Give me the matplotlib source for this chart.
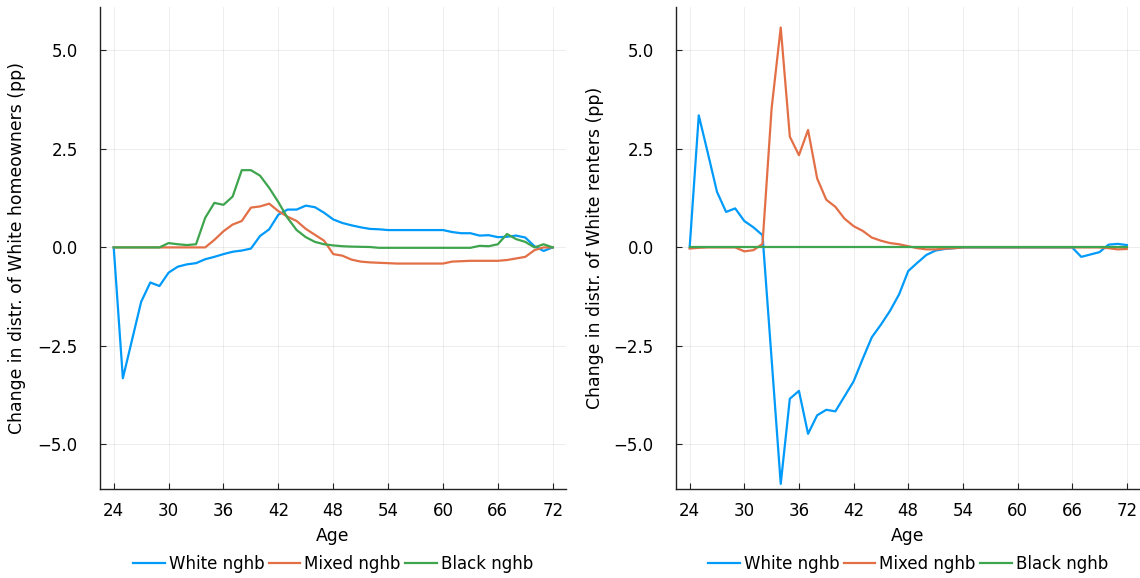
import numpy as np
import matplotlib.pyplot as plt
from matplotlib.ticker import FuncFormatter

plt.rcParams.update({
    'font.family': ['DejaVu Sans'],
    'font.size': 12,
    'xtick.labelsize': 12,
    'ytick.labelsize': 12,
    'axes.labelsize': 12.4,
})

ages = np.arange(24, 73)

# homeowners: change in distribution (pp)
own_white = [0, -3.32, -2.35, -1.38, -0.89, -0.98, -0.64, -0.49, -0.43, -0.40,
             -0.30, -0.24, -0.17, -0.11, -0.08, -0.03, 0.29, 0.46, 0.83, 0.96,
             0.96, 1.06, 1.02, 0.88, 0.71, 0.62, 0.56, 0.51, 0.47, 0.46,
             0.44, 0.44, 0.44, 0.44, 0.44, 0.44, 0.44, 0.39, 0.36, 0.36,
             0.30, 0.31, 0.26, 0.27, 0.30, 0.25, 0.03, -0.09, 0]
own_mixed = [0, 0, 0, 0, 0, 0, 0, 0, 0, 0,
             0, 0.19, 0.41, 0.58, 0.67, 1.01, 1.04, 1.11, 0.92, 0.78,
             0.67, 0.47, 0.32, 0.17, -0.17, -0.21, -0.31, -0.36, -0.38, -0.39,
             -0.40, -0.41, -0.41, -0.41, -0.41, -0.41, -0.41, -0.36, -0.35, -0.34,
             -0.34, -0.34, -0.34, -0.32, -0.28, -0.24, -0.07, 0, 0]
own_black = [0, 0, 0, 0, 0, 0, 0.11, 0.08, 0.06, 0.08,
             0.75, 1.13, 1.08, 1.29, 1.96, 1.96, 1.82, 1.51, 1.15, 0.75,
             0.44, 0.26, 0.14, 0.08, 0.05, 0.03, 0.02, 0.015, 0.01, -0.01,
             -0.01, -0.01, -0.01, -0.01, -0.01, -0.01, -0.01, -0.01, -0.01, -0.01,
             0.04, 0.03, 0.08, 0.34, 0.21, 0.14, 0, 0.08, 0]

# renters: change in distribution (pp)
rent_white = [0, 3.35, 2.39, 1.41, 0.90, 0.99, 0.67, 0.51, 0.31, -2.84,
              -6.0, -3.84, -3.64, -4.73, -4.26, -4.12, -4.16, -3.78, -3.40, -2.83,
              -2.28, -1.96, -1.61, -1.19, -0.60, -0.39, -0.19, -0.08, -0.04, -0.02,
              0, 0, 0, 0, 0, 0, 0, 0, 0, 0,
              0, 0, 0, -0.24, -0.18, -0.12, 0.07, 0.09, 0.06]
rent_mixed = [-0.03, -0.01, 0, 0, 0, 0, -0.10, -0.07, 0.09, 3.53,
              5.58, 2.81, 2.34, 2.98, 1.75, 1.21, 1.03, 0.73, 0.54, 0.42,
              0.25, 0.17, 0.11, 0.08, 0.03, -0.02, -0.05, -0.05, -0.03, -0.02,
              0, 0, 0, 0, 0, 0, 0, 0, 0, 0,
              0, 0, 0, 0, 0, 0, -0.02, -0.05, -0.04]
rent_black = [0] * len(ages)

labels = ["White nghb", "Mixed nghb", "Black nghb"]
colors = ['#009AFA', '#E36F47', '#3EA44E']

fig = plt.figure(figsize=(11.4, 5.78), dpi=100)
ax1 = fig.add_axes([100 / 1140, 89 / 578, 466 / 1140, 482 / 578])
ax2 = fig.add_axes([676 / 1140, 89 / 578, 464 / 1140, 482 / 578])

panels = [
    (ax1, [own_white, own_mixed, own_black], "Change in distr. of White homeowners (pp)", -0.159),
    (ax2, [rent_white, rent_mixed, rent_black], "Change in distr. of White renters (pp)", -0.155),
]

yfmt = FuncFormatter(lambda v, pos: f"{v:.1f}".replace('-', '\u2212'))

for ax, series, ylab, ylab_x in panels:
    for vals, lab, c in zip(series, labels, colors):
        ax.plot(ages, vals, color=c, lw=1.6, label=lab)
    ax.set_xlim(22.5, 73.45)
    ax.set_ylim(-6.13, 6.1)
    ax.set_xticks(np.arange(24, 73, 6))
    ax.set_yticks([-5, -2.5, 0, 2.5, 5])
    ax.yaxis.set_major_formatter(yfmt)
    ax.grid(True, color='#000000', alpha=0.1, lw=0.5)
    for s in ['top', 'right']:
        ax.spines[s].set_visible(False)
    for s in ['left', 'bottom']:
        ax.spines[s].set_linewidth(1.0)
        ax.spines[s].set_color('#222222')
    ax.tick_params(direction='in', length=4, width=0.8, color='#222222')
    ax.tick_params(axis='x', pad=9)
    ax.tick_params(axis='y', pad=16)
    ax.set_xlabel("Age")
    ax.xaxis.set_label_coords(0.5, -0.078)
    ax.set_ylabel(ylab)
    ax.yaxis.set_label_coords(ylab_x, 0.5)
    ax.legend(loc='center', bbox_to_anchor=(0.5, -0.156), ncol=3, frameon=False,
              handlelength=1.9, handletextpad=0.25, columnspacing=0.25, fontsize=12)

fig.savefig('out.png', dpi=100)
